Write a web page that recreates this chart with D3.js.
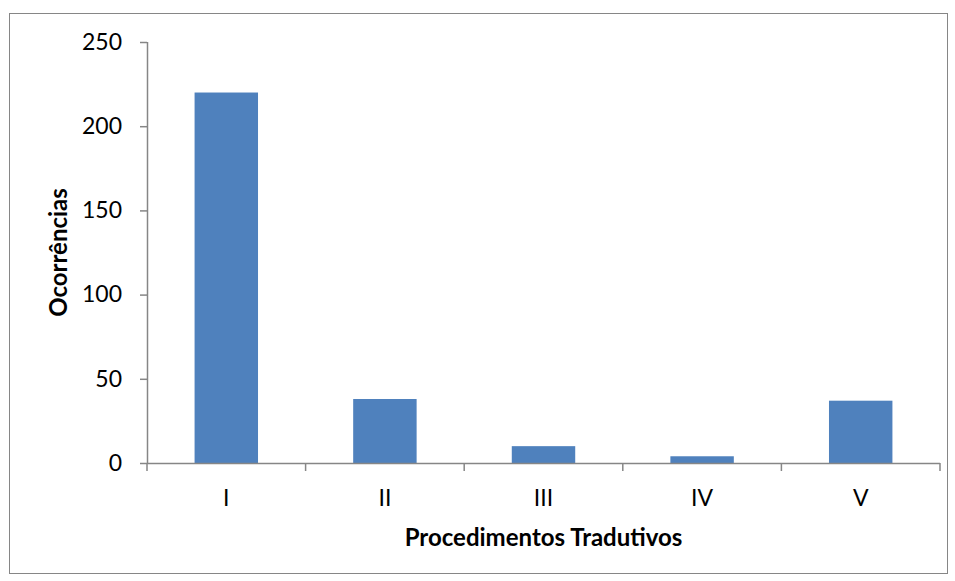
<!DOCTYPE html>
<html>
<head>
<meta charset="utf-8">
<script src="https://cdn.jsdelivr.net/npm/d3@7"></script>
<style>
  html, body { margin: 0; padding: 0; background: #fff; }
  svg { display: block; }
  text { font-family: Lato, "Open Sans", sans-serif; fill: #000; }
</style>
</head>
<body>
<svg id="chart" width="955" height="581"></svg>
<script>
// Ocorrências por procedimento tradutivo
const categories = ["I", "II", "III", "IV", "V"];
const occurrences = [220, 38, 10, 4, 37];
const yTicks = [0, 50, 100, 150, 200, 250];
const xTitle = "Procedimentos Tradutivos";
const yTitle = "Ocorrências";

const svg = d3.select("#chart");
const plot = { left: 147, right: 940, top: 42, bottom: 463 };
const axisColor = "#868686";

// outer frame
svg.append("rect")
  .attr("x", 9.5).attr("y", 13.5)
  .attr("width", 938).attr("height", 560)
  .attr("fill", "#fff").attr("stroke", axisColor).attr("stroke-width", 1);

const x = d3.scaleBand().domain(categories).range([plot.left, plot.right]).paddingInner(0.6).paddingOuter(0.3);
const y = d3.scaleLinear().domain([0, 250]).range([plot.bottom, plot.top]);

// bars
svg.append("g").selectAll("rect")
  .data(categories.map((c, i) => ({ c, v: occurrences[i] })))
  .join("rect")
  .attr("x", d => x(d.c))
  .attr("width", x.bandwidth())
  .attr("y", d => y(d.v))
  .attr("height", d => y(0) - y(d.v))
  .attr("fill", "#4F81BD");

// y axis
const yAxis = svg.append("g")
  .attr("transform", `translate(${plot.left},0)`)
  .call(d3.axisLeft(y).tickValues(yTicks).tickSize(7).tickPadding(18));
yAxis.select(".domain").attr("stroke", axisColor).attr("stroke-width", 1.5)
  .attr("d", `M0.5,${plot.top}V${plot.bottom}`);
yAxis.selectAll(".tick line").attr("stroke", axisColor).attr("stroke-width", 1.5);
yAxis.selectAll(".tick text").attr("font-size", 23).attr("font-family", "Lato, sans-serif");

// x axis: category dividers as tick marks
const xAxis = svg.append("g")
  .attr("transform", `translate(0,${plot.bottom})`);
xAxis.append("line")
  .attr("x1", plot.left).attr("x2", plot.right)
  .attr("y1", 0.5).attr("y2", 0.5)
  .attr("stroke", axisColor).attr("stroke-width", 1.5);
const dividers = d3.range(categories.length + 1).map(i => plot.left + i * (plot.right - plot.left) / categories.length);
xAxis.selectAll("line.div").data(dividers).join("line")
  .attr("class", "div")
  .attr("x1", d => d).attr("x2", d => d)
  .attr("y1", 0).attr("y2", 8)
  .attr("stroke", axisColor).attr("stroke-width", 1.5);
xAxis.selectAll("text.cat").data(categories).join("text")
  .attr("class", "cat")
  .attr("x", d => x(d) + x.bandwidth() / 2)
  .attr("y", 43)
  .attr("text-anchor", "middle")
  .attr("font-size", 23)
  .text(d => d);

// axis titles
svg.append("text")
  .attr("x", (plot.left + plot.right) / 2)
  .attr("y", 546)
  .attr("text-anchor", "middle")
  .attr("font-size", 24)
  .attr("font-weight", "bold")
  .text(xTitle);

svg.append("text")
  .attr("transform", `translate(67,${(plot.top + plot.bottom) / 2}) rotate(-90)`)
  .attr("text-anchor", "middle")
  .attr("font-size", 24)
  .attr("font-weight", "bold")
  .text(yTitle);
</script>
</body>
</html>
